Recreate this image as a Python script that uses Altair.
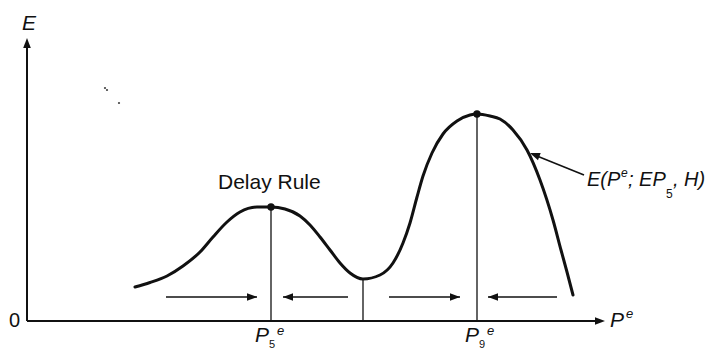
import altair as alt
import pandas as pd

# ---- data (units: origin at the axes' corner) ----
curve_x = [108, 123, 140, 156, 173, 186, 200, 213, 230, 244, 258, 273, 283, 293, 303, 313, 323,
           336, 353, 366, 376, 383, 390, 396, 405, 416, 430, 443, 450, 463, 473, 486, 500, 513, 526, 534, 540, 546]
curve_y = [34, 38.5, 45, 55, 69, 84, 99, 109, 114, 114, 112, 105, 96, 84, 71, 58, 48,
           42, 46, 58, 78, 98, 124, 145, 168, 187, 200, 206, 207, 205, 202, 191, 171, 141, 101, 71, 49, 26]

guide_x = [244, 336, 450]          # P5e, trough, P9e
guide_top = [114, 42, 207]

peak_x = [244, 450]
peak_y = [114, 207]

arrow_from = [139, 321, 362, 530]
arrow_to = [230, 256, 433, 461]
arrow_y = [24, 24, 24, 24]

axis_x1 = [0, 0]
axis_y1 = [0, 0]
axis_x2 = [0, 572]
axis_y2 = [278, 0]

ann_x1, ann_y1, ann_x2, ann_y2 = [557], [146], [505], [167]

head_x = [0, 578, 230, 256, 433, 461, 503]
head_y = [283, 0, 24, 24, 24, 24, 168]
head_ang = [270, 0, 0, 180, 0, 180, 201]

speck_x = [78, 80, 92]
speck_y = [233, 231, 218]

it_text = ["E", "P", "e", "P", "e", "P", "e", "E(P", "e", "; EP", ", H)"]
it_x = [-5, 583, 599, 228, 250, 438, 460, 560, 594, 601, 646]
it_y = [297, 0, 7, -15, -10, -15, -10, 141, 148, 141, 141]
it_size = [21, 21, 13, 21, 13, 21, 13, 20, 12, 20, 20]

up_text = ["Delay Rule", "0", "5", "9", "5"]
up_x = [191, -18, 242, 452, 639]
up_y = [138, 0, -24, -24, 127]
up_size = [21, 20, 11, 11, 12]

# ---- scales ----
W, H = 702, 341
xs = alt.Scale(domain=[-19, 683], nice=False, zero=False)
ys = alt.Scale(domain=[-28, 313], nice=False, zero=False)
X = lambda f: alt.X(f, type="quantitative", scale=xs, axis=None)
Y = lambda f: alt.Y(f, type="quantitative", scale=ys, axis=None)

curve = alt.Chart(pd.DataFrame({"x": curve_x, "y": curve_y})).mark_line(
    interpolate="monotone", strokeWidth=3, color="#111", strokeCap="round"
).encode(x=X("x"), y=Y("y"))

axes = alt.Chart(pd.DataFrame({"x": axis_x1, "y": axis_y1, "x2": axis_x2, "y2": axis_y2})).mark_rule(
    strokeWidth=2, color="#111"
).encode(x=X("x"), y=Y("y"), x2="x2", y2="y2")

guides = alt.Chart(pd.DataFrame({"x": guide_x, "top": guide_top, "b": [0, 0, 0]})).mark_rule(
    strokeWidth=1.3, color="#111"
).encode(x=X("x"), y=Y("b"), y2="top")

harrows = alt.Chart(pd.DataFrame({"x": arrow_from, "x2": arrow_to, "y": arrow_y})).mark_rule(
    strokeWidth=1.6, color="#111"
).encode(x=X("x"), x2="x2", y=Y("y"))

ann = alt.Chart(pd.DataFrame({"x": ann_x1, "y": ann_y1, "x2": ann_x2, "y2": ann_y2})).mark_rule(
    strokeWidth=1.6, color="#111"
).encode(x=X("x"), y=Y("y"), x2="x2", y2="y2")

heads = alt.Chart(pd.DataFrame({"x": head_x, "y": head_y, "a": head_ang})).mark_point(
    shape="M0,0L-1,-0.38L-1,0.38Z", filled=True, size=400, color="#111", opacity=1
).encode(x=X("x"), y=Y("y"), angle=alt.Angle("a:Q", scale=None))

dots = alt.Chart(pd.DataFrame({"x": peak_x, "y": peak_y})).mark_point(
    shape="circle", filled=True, size=55, color="#111", opacity=1
).encode(x=X("x"), y=Y("y"))

specks = alt.Chart(pd.DataFrame({"x": speck_x, "y": speck_y})).mark_point(
    shape="circle", filled=True, size=5, color="#444", opacity=1
).encode(x=X("x"), y=Y("y"))

font = "Liberation Sans"
itx = alt.Chart(pd.DataFrame({"t": it_text, "x": it_x, "y": it_y, "s": it_size})).mark_text(
    align="left", baseline="middle", font=font, fontStyle="italic", color="#111"
).encode(x=X("x"), y=Y("y"), text="t:N", size=alt.Size("s:Q", scale=None))

upx = alt.Chart(pd.DataFrame({"t": up_text, "x": up_x, "y": up_y, "s": up_size})).mark_text(
    align="left", baseline="middle", font=font, color="#111"
).encode(x=X("x"), y=Y("y"), text="t:N", size=alt.Size("s:Q", scale=None))

chart = alt.layer(axes, guides, harrows, ann, curve, heads, dots, specks, itx, upx).properties(
    width=W, height=H, padding=0, autosize=alt.AutoSizeParams(type="none"), background="white"
).configure_view(stroke=None)

chart.save("out.html", embed_options={"renderer": "svg", "actions": False})
